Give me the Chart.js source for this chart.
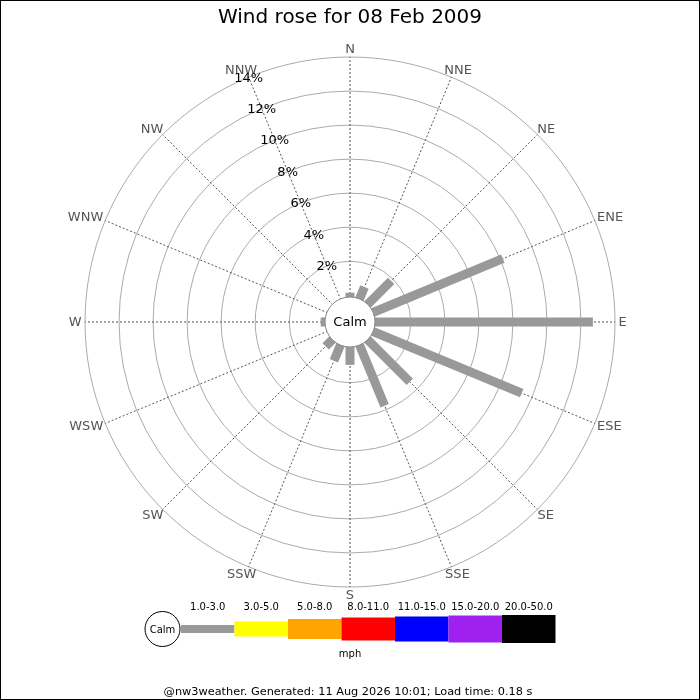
<!DOCTYPE html>
<html>
<head>
<meta charset="utf-8">
<title>Wind rose for 08 Feb 2009</title>
<script src="https://cdn.jsdelivr.net/npm/chart.js@4.4.1/dist/chart.umd.min.js"></script>
<style>
	html, body { margin: 0; padding: 0; background: #fff; }
	#wrap { width: 700px; height: 700px; position: relative; }
</style>
</head>
<body>
<div id="wrap"><canvas id="rose"></canvas></div>
<script>
const directions = ['N', 'NNE', 'NE', 'ENE', 'E', 'ESE', 'SE', 'SSE', 'S', 'SSW', 'SW', 'WSW', 'W', 'WNW', 'NW', 'NNW'];
// % of the day from each direction (all of it fell in the 1.0-3.0 mph bin)
const freq = [0.15, 0.65, 1.85, 8.15, 12.7, 9.35, 3.4, 3.75, 0.95, 0.9, 0.45, 0, 0.15, 0, 0, 0];
const pctTicks = [2, 4, 6, 8, 10, 12, 14];
const speedBins = ['1.0-3.0', '3.0-5.0', '5.0-8.0', '8.0-11.0', '11.0-15.0', '15.0-20.0', '20.0-50.0'];

const FONT = 'DejaVu Sans';
const binColours = ['#999999', '#ffff00', '#ffa500', '#ff0000', '#0000ff', '#a020f0', '#000000'];
const legendHeights = [8, 15, 20, 23, 25, 27, 28];

function drawText(ctx, text, x, y, size, colour, align = 'center') {
	ctx.font = `${size}px "${FONT}"`;
	ctx.fillStyle = colour;
	ctx.textAlign = align;
	ctx.textBaseline = 'middle';
	ctx.fillText(text, x, y);
}

// radial bars, calm disc, compass labels and % labels along the NNW spoke
const roseBars = {
	id: 'roseBars',
	afterDatasetsDraw(chart) {
		const { ctx } = chart;
		const scale = chart.scales.r;
		const meta = chart.getDatasetMeta(0);
		ctx.save();
		ctx.strokeStyle = binColours[0];
		ctx.lineWidth = 9;
		ctx.lineCap = 'butt';
		meta.data.forEach((pt, i) => {
			if (!freq[i]) return;
			ctx.beginPath();
			ctx.moveTo(scale.xCenter, scale.yCenter);
			ctx.lineTo(pt.x, pt.y);
			ctx.stroke();
		});

		ctx.beginPath();
		ctx.arc(scale.xCenter, scale.yCenter, 25, 0, Math.PI * 2);
		ctx.fillStyle = '#fff';
		ctx.fill();
		ctx.lineWidth = 1;
		ctx.strokeStyle = '#888';
		ctx.stroke();
		drawText(ctx, 'Calm', scale.xCenter, scale.yCenter + 1, 13, '#000');

		// compass names hang off the end of each spoke
		const R = scale.drawingArea;
		ctx.font = `13px "${FONT}"`;
		directions.forEach((name, i) => {
			const end = scale.getPointPosition(i, R);
			const sin = (end.x - scale.xCenter) / R;
			const cos = (scale.yCenter - end.y) / R;
			const halfW = ctx.measureText(name).width / 2;
			const x = end.x + sin * (3.5 + halfW);
			const y = end.y - cos * 8;
			drawText(ctx, name, x, y + 0.5, 13, '#555');
		});

		const nnw = directions.indexOf('NNW');
		pctTicks.forEach((v) => {
			const p = scale.getPointPositionForValue(nnw, v);
			drawText(ctx, `${v}%`, p.x, p.y + 1, 13, '#000');
		});
		ctx.restore();
	},
	afterDraw(chart) {
		const { ctx } = chart;
		ctx.save();
		// speed legend
		const cy = 629;
		ctx.beginPath();
		ctx.arc(162.5, cy, 17.5, 0, Math.PI * 2);
		ctx.fillStyle = '#fff';
		ctx.fill();
		ctx.strokeStyle = '#000';
		ctx.lineWidth = 1;
		ctx.stroke();
		drawText(ctx, 'Calm', 162.5, cy + 1, 10, '#000');

		const x0 = 181;
		const w = 53.5;
		speedBins.forEach((label, i) => {
			const h = legendHeights[i];
			ctx.fillStyle = binColours[i];
			ctx.fillRect(x0 + i * w, cy - h / 2, w, h);
			drawText(ctx, label, x0 + i * w + w / 2, 607, 10, '#000');
		});
		drawText(ctx, 'mph', 350, 654, 10, '#000');
		drawText(ctx, '@nw3weather. Generated: 11 Aug 2026 10:01; Load time: 0.18 s', 348, 692, 11.3, '#000');

		ctx.strokeStyle = '#000';
		ctx.strokeRect(0.5, 0.5, chart.width - 1, chart.height - 1);
		ctx.restore();
	},
};

document.addEventListener('DOMContentLoaded', () => {
	const el = document.getElementById('rose');
	// eslint-disable-next-line no-new
	new Chart(el, {
		type: 'radar',
		data: {
			labels: directions,
			datasets: [{
				label: speedBins[0],
				data: freq,
				showLine: false,
				fill: false,
				borderWidth: 0,
				pointRadius: 0,
				backgroundColor: 'transparent',
			}],
		},
		options: {
			responsive: true,
			maintainAspectRatio: false,
			animation: false,
			events: [],
			layout: { padding: 0 },
			plugins: {
				legend: { display: false },
				tooltip: { enabled: false },
				title: {
					display: true,
					text: 'Wind rose for 08 Feb 2009',
					color: '#000',
					font: { family: FONT, size: 20, weight: 'normal' },
					padding: { top: 6, bottom: 2 },
				},
			},
			scales: {
				r: {
					min: -1.57,
					max: 14,
					ticks: { display: false },
					afterBuildTicks: (s) => { s.ticks = pctTicks.map((v) => ({ value: v })); },
					afterSetDimensions: (s) => {
						s.xCenter = 350;
						s.yCenter = 322;
						s.drawingArea = 265;
					},
					grid: { circular: true, color: '#aaaaaa', lineWidth: 1 },
					angleLines: { color: '#555', lineWidth: 1, borderDash: [2, 2] },
					pointLabels: { display: false },
				},
			},
		},
		plugins: [roseBars],
	});
});
</script>
</body>
</html>
